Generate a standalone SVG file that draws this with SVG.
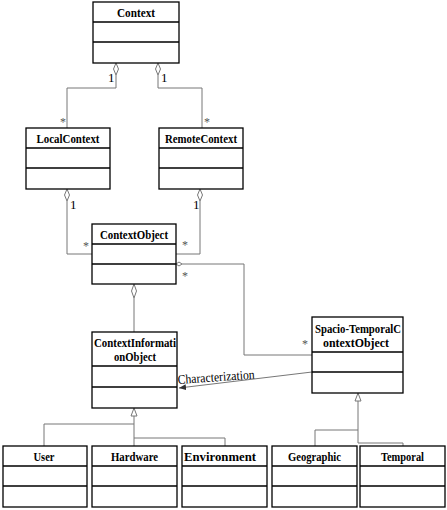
<svg xmlns="http://www.w3.org/2000/svg" width="447" height="510" viewBox="0 0 447 510">
<style>
.box{fill:#fff;stroke:#000;stroke-width:1.3}
.div{stroke:#000;stroke-width:1.3}
.t{font-family:"Liberation Serif","Times New Roman",serif;font-weight:bold;font-size:13px;fill:#000;text-anchor:middle}
.c{fill:none;stroke:#777;stroke-width:1}
.d{fill:#fff;stroke:#777;stroke-width:1}
.m{font-family:"Liberation Serif","Times New Roman",serif;font-size:13px;fill:#000}
.s{font-family:"Liberation Serif","Times New Roman",serif;font-size:12px;fill:#555}
</style>
<defs>
<marker id="arr" markerWidth="8" markerHeight="8" refX="7" refY="4" orient="auto" markerUnits="userSpaceOnUse">
<path d="M0,1 L7,4 L0,7 Z" fill="#333"/>
</marker>
</defs>
<rect width="447" height="510" fill="#fff"/>
<g id="connectors">
<path class="c" d="M116,75 V88 H67 V128"/>
<path class="d" d="M116,63 L118.5,69 L116,75 L113.5,69 Z"/>
<path class="c" d="M158,75 V88 H202 V128"/>
<path class="d" d="M158,63 L160.5,69 L158,75 L155.5,69 Z"/>
<path class="c" d="M67,201 V254 H92"/>
<path class="d" d="M67,189 L69.5,195 L67,201 L64.5,195 Z"/>
<path class="c" d="M200,201 V254 H176"/>
<path class="d" d="M200,189 L202.5,195 L200,201 L197.5,195 Z"/>
<path class="c" d="M182,264 H244 V355 H312"/>
<path class="d" d="M176,264 L179,262 L182,264 L179,266 Z"/>
<path class="c" d="M134,298 V332"/>
<path class="d" d="M134,284 L136.5,291 L134,298 L131.5,291 Z"/>
<path class="c" d="M312,372 L179,388" marker-end="url(#arr)"/>
<path class="c" d="M134,416 V446 M134,424 H44 V446 M134,438 H225 V446"/>
<path class="d" d="M134,408 L137,416 L131,416 Z"/>
<path class="c" d="M358,401 V443 H403 V446 M358,430 H315 V446"/>
<path class="d" d="M358,393 L361,401 L355,401 Z"/>
<text class="m" x="108" y="82">1</text>
<text class="m" x="161" y="82">1</text>
<text class="s" x="60" y="126">*</text>
<text class="s" x="204" y="126">*</text>
<text class="m" x="70" y="209">1</text>
<text class="m" x="193" y="209">1</text>
<text class="s" x="83" y="250">*</text>
<text class="s" x="182" y="249">*</text>
<text class="s" x="182" y="280">*</text>
<text class="s" x="302" y="348">*</text>
<text class="m" x="178" y="384" textLength="77" lengthAdjust="spacingAndGlyphs" transform="rotate(-4 178 384)">Characterization</text>
</g>
<g id="Context">
<rect class="box" x="93" y="2" width="86" height="61"/>
<path class="div" d="M93,22 H179 M93,42 H179"/>
<text class="t" x="136" y="17" textLength="38" lengthAdjust="spacingAndGlyphs">Context</text>
</g>
<g id="LocalContext">
<rect class="box" x="26" y="128" width="84" height="61"/>
<path class="div" d="M26,148 H110 M26,168 H110"/>
<text class="t" x="68" y="143" textLength="63" lengthAdjust="spacingAndGlyphs">LocalContext</text>
</g>
<g id="RemoteContext">
<rect class="box" x="159" y="128" width="84" height="61"/>
<path class="div" d="M159,148 H243 M159,168 H243"/>
<text class="t" x="201" y="143" textLength="72" lengthAdjust="spacingAndGlyphs">RemoteContext</text>
</g>
<g id="ContextObject">
<rect class="box" x="92" y="224" width="84" height="60"/>
<path class="div" d="M92,244 H176 M92,264 H176"/>
<text class="t" x="134" y="239" textLength="68" lengthAdjust="spacingAndGlyphs">ContextObject</text>
</g>
<g id="ContextInformationObject">
<rect class="box" x="92" y="332" width="85" height="76"/>
<path class="div" d="M92,366 H177 M92,387 H177"/>
<text class="t" x="135" y="347" textLength="82" lengthAdjust="spacingAndGlyphs">ContextInformati</text>
<text class="t" x="135" y="361" textLength="42" lengthAdjust="spacingAndGlyphs">onObject</text>
</g>
<g id="SpacioTemporalContextObject">
<rect class="box" x="312" y="317" width="91" height="76"/>
<path class="div" d="M312,352 H403 M312,372 H403"/>
<text class="t" x="358" y="333" textLength="86" lengthAdjust="spacingAndGlyphs">Spacio-TemporalC</text>
<text class="t" x="356" y="347" textLength="66" lengthAdjust="spacingAndGlyphs">ontextObject</text>
</g>
<g id="User">
<rect class="box" x="3" y="446" width="84" height="61"/>
<path class="div" d="M3,466 H87 M3,486 H87"/>
<text class="t" x="44" y="461" textLength="21" lengthAdjust="spacingAndGlyphs">User</text>
</g>
<g id="Hardware">
<rect class="box" x="92" y="446" width="85" height="61"/>
<path class="div" d="M92,466 H177 M92,486 H177"/>
<text class="t" x="134.5" y="461" textLength="47" lengthAdjust="spacingAndGlyphs">Hardware</text>
</g>
<g id="Environment">
<rect class="box" x="182" y="446" width="85" height="61"/>
<path class="div" d="M182,466 H267 M182,486 H267"/>
<text class="t" x="220" y="461" textLength="72" lengthAdjust="spacingAndGlyphs">Environment</text>
</g>
<g id="Geographic">
<rect class="box" x="272" y="446" width="85" height="61"/>
<path class="div" d="M272,466 H357 M272,486 H357"/>
<text class="t" x="314.5" y="461" textLength="53" lengthAdjust="spacingAndGlyphs">Geographic</text>
</g>
<g id="Temporal">
<rect class="box" x="360" y="446" width="85" height="61"/>
<path class="div" d="M360,466 H445 M360,486 H445"/>
<text class="t" x="402.5" y="461" textLength="43" lengthAdjust="spacingAndGlyphs">Temporal</text>
</g>
</svg>
